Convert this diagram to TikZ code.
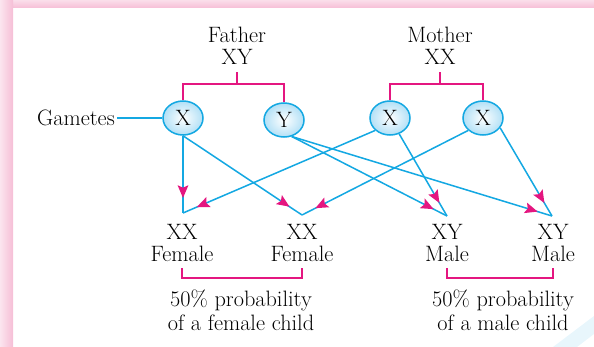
\documentclass[tikz,border=0pt]{standalone}
\usetikzlibrary{arrows.meta,decorations.markings,shapes.geometric}
\definecolor{lineblue}{RGB}{20,168,226}
\definecolor{brkpink}{RGB}{228,22,128}
\definecolor{gamfill}{RGB}{178,224,246}
\definecolor{framepink}{RGB}{246,190,214}
\begin{document}
\begin{tikzpicture}[x=0.03cm,y=-0.03cm,font=\fontsize{19}{19}\selectfont,
  gam/.style={ellipse,draw=lineblue,line width=1.3pt,inner sep=0pt,
    minimum width=1.2cm,minimum height=1.02cm,inner color=white,outer color=gamfill},
  cross/.style={draw=lineblue,line width=1.3pt,postaction=decorate,
    decoration={markings,mark=at position -0.45cm with
      {\arrow[brkpink]{Stealth[length=0.38cm,width=0.32cm,inset=0.07cm]}}}},
  brk/.style={draw=brkpink,line width=1.4pt},
  par/.style={align=center,inner xsep=0pt,inner ysep=6pt},
  kid/.style={align=center,inner xsep=0pt,inner ysep=5pt}]
\useasboundingbox (0,0) rectangle (594,347);
% frame
\shade[top color=framepink!50,bottom color=framepink] (0,0) rectangle (594,8);
\shade[left color=framepink!40,right color=framepink] (0,0) rectangle (13,347);
\fill[lineblue!10] (553,347) -- (594,316) -- (594,334) -- (577,347) -- cycle;
% parents
\node[par] (fa) at (237,46) {Father\\XY};
\node[par] (mo) at (440,46) {Mother\\XX};
% gametes
\node[inner xsep=2pt,inner ysep=0pt] (gm) at (76,118) {Gametes};
\node[gam] (g1) at (183,118) {X};
\node[gam] (g2) at (284,120) {Y};
\node[gam] (g3) at (390,118) {X};
\node[gam] (g4) at (483,118) {X};
\draw[brk] (g1.north) -- ++(0,-16) coordinate (fl) -| (g2.north);
\draw[brk] (fa.south) -- (fa.south |- fl);
\draw[brk] (g3.north) -- ++(0,-16) coordinate (ml) -| (g4.north);
\draw[brk] (mo.south) -- (mo.south |- ml);
% children
\coordinate (c1) at (183,213);
\coordinate (c2) at (302,215);
\coordinate (c3) at (447,216);
\coordinate (c4) at (552,216);
\node[kid] (k1) at (182,243) {XX\\Female};
\node[kid] (k2) at (302,243) {XX\\Female};
\node[kid] (k3) at (447,243) {XY\\Male};
\node[kid] (k4) at (553,243) {XY\\Male};
\draw[lineblue,line width=1.3pt] (gm) -- (g1);
\draw[cross] (g1.south) -- (c1);
\draw[cross] (g1.south) -- (c2);
\draw[cross] (g2.-65) -- (c3);
\draw[cross] (g2.-65) -- (c4);
\draw[cross] (g3.-140) -- (c1);
\draw[cross] (g3.-60) -- (c3);
\draw[cross] (g4.-140) -- (c2);
\draw[cross] (g4.-30) -- (c4);
% probabilities
\draw[brk] (k1.south) -- ++(0,10) coordinate (fb) -| (k2.south);
\draw[brk] (k3.south) -- ++(0,10) coordinate (mb) -| (k4.south);
\node[align=center,inner sep=0pt,font=\fontsize{19}{20.5}\selectfont] (p1) at (241,310)
  {50\% probability\\of a female child};
\node[align=center,inner sep=0pt,font=\fontsize{19}{20.5}\selectfont] (p2) at (503,310)
  {50\% probability\\of a male child};
\end{tikzpicture}
\end{document}
